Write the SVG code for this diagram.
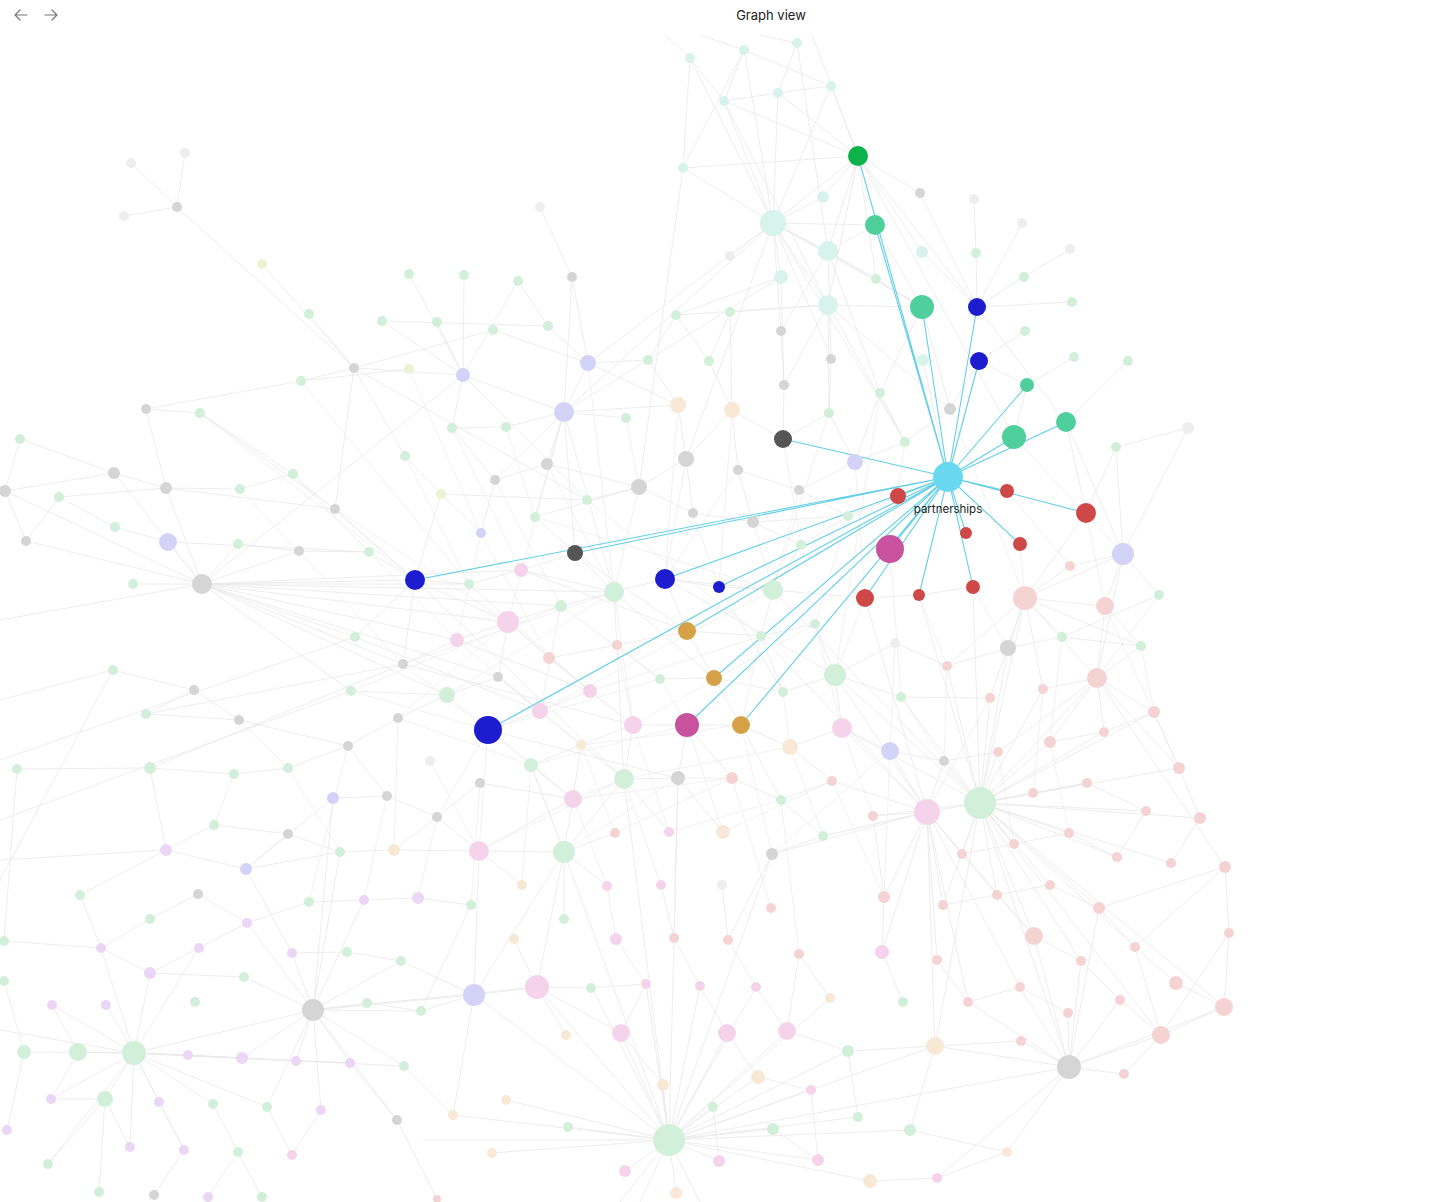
<svg xmlns="http://www.w3.org/2000/svg" width="1456" height="1202" viewBox="0 0 1456 1202">
<style>
.e{fill:none;stroke:#e8e8e8;stroke-width:0.8}
.e2{fill:none;stroke:#ededed;stroke-width:0.8}
.h{fill:none;stroke:#62cfe8;stroke-width:1.1}
.m{fill:#d8f3eb}.l{fill:#eeeeee}.k{fill:#d5d5d5}.g{fill:#d2efda}.y{fill:#ebf3d3}.v{fill:#d3d3f7}.o{fill:#f7e9d5}.p{fill:#f5d4eb}.r{fill:#f5d3d3}.u{fill:#ecd6f6}
.ctr{fill:#6ad7f1}.bg{fill:#0db24a}.tl{fill:#4fcf9c}.bl{fill:#1d1dcf}.dk{fill:#555555}.rd{fill:#cf4848}.mg{fill:#c9529e}.gd{fill:#d6a247}
.t{font-family:Inter,"Liberation Sans",Arial,sans-serif;fill:#222}
.ic{fill:none;stroke:#777;stroke-width:1.2;stroke-linecap:round;stroke-linejoin:round}
</style>
<rect width="1456" height="1202" fill="#ffffff"/>
<g id="header">
<path class="ic" d="M27 15H15M20 10L15 15L20 20"/>
<path class="ic" d="M45 15H57M52 10L57 15L52 20"/>
<text class="t" x="771" y="20" font-size="13" text-anchor="middle">Graph view</text>
</g>
<g id="connectors">
<path class="e" d="M683 168L773 223M683 168L690 58M683 168L744 50M683 168L639 487M683 168L858 156M690 58L724 101M744 50L724 101M744 50L831 86M797 43L778 93M778 93L724 101M724 101L858 156M778 93L858 156M831 86L858 156M831 86L778 93M665 35L690 58M700 35L744 50M760 35L797 43M812 35L858 156M690 58L773 223M744 50L773 223M724 101L773 223M778 93L773 223M831 86L773 223M797 43L828 251M724 101L828 305M773 223L858 156M773 223L823 197M773 223L828 251M773 223L781 277M773 223L828 305M773 223L730 256M773 223L876 279M773 223L781 331M773 223L588 363M773 223L564 412M773 223L875 225M773 223L922 307M773 223L686 459M773 223L832 359M773 223L905 442M858 156L920 193M858 156L922 252M858 156L828 251M858 156L828 305M858 156L876 279M858 156L977 307M858 156L1014 437M858 156L823 197M828 251L875 225M828 251L922 307M828 251L781 331M828 251L831 359M828 251L880 393M828 305L922 307M828 305L784 385M828 305L829 413M828 305L730 312M828 305L676 315M828 305L905 442M828 305L950 409M781 277L676 315M781 277L564 412M781 277L784 385M920 193L977 307M974 199L976 253M976 253L977 307M1022 223L977 307M1070 249L1024 277M1024 277L977 307M1072 302L977 307M1025 331L979 361M1074 357L1027 385M1128 361L1066 422M1188 428L1116 447M1116 447L1086 513M1066 422L1086 513M1066 422L1123 554M1027 385L1014 437M977 307L1066 422M979 361L1027 385M922 252L977 307M922 307L950 409M923 360L948 477M875 225L922 307M876 279L922 307M880 393L922 307"/>
<path class="e" d="M131 163L177 207M185 153L177 207M124 216L177 207M177 207L354 368M262 264L354 368M309 314L354 368M354 368L463 375M354 368L301 381M354 368L493 330M354 368L335 509M354 368L405 456M354 368L587 500M146 409L301 381M146 409L200 413M146 409L166 488M200 413L293 474M200 413L335 509M301 381L409 369M409 274L463 375M464 275L463 375M382 321L463 375M437 322L463 375M382 321L548 326M518 281L548 326M518 281L463 375M572 277L588 363M540 207L572 277M493 330L588 363M548 326L588 363M572 277L564 412M463 375L564 412M463 375L202 584M463 375L587 500M588 363L564 412M588 363L678 405M588 363L648 360M564 412L547 464M564 412L626 418M564 412L678 405M564 412L506 427M564 412L495 480M564 412L575 553M564 412L535 517M564 412L614 592M463 375L452 428M452 428L506 427M405 456L441 494M452 428L495 480M441 494L587 500M441 494L481 533M441 494L415 580M676 315L648 360M676 315L709 361M730 312L709 361M730 312L732 410M648 360L678 405M709 361L732 410M678 405L686 459M732 410L686 459M732 410L738 470M732 410L783 439M686 459L639 487M686 459L693 513M639 487L587 500M639 487L693 513M639 487L535 517M639 487L547 464M547 464L495 480M495 480L481 533M738 470L799 490M738 470L753 522M799 490L855 462M799 490L848 516M855 462L905 442M855 462L880 393M784 385L783 439M781 331L784 385M831 359L829 413M829 413L855 462M829 413L783 439M880 393L905 442M905 442L950 409M950 409L979 361M693 513L753 522M753 522L801 545M753 522L848 516"/>
<path class="e" d="M20 439L5 491M20 439L114 473M114 473L166 488M114 473L202 584M166 488L202 584M5 491L26 541M5 491L202 584M5 491L114 473M59 497L166 488M59 497L26 541M59 497L115 527M168 542L202 584M115 527L168 542M166 488L240 489M240 489L293 474M166 488L335 509M293 474L369 552M299 551L369 552M238 544L299 551M26 541L202 584M133 584L202 584M202 584L415 580M202 584L469 584M202 584L521 570M202 584L508 622M202 584L457 640M202 584L614 592M202 584L561 606M202 584L498 677M202 584L447 695M202 584L403 664M202 584L355 637M202 584L351 691M202 584L299 551M202 584L238 544M168 542L369 552M335 509L415 580M369 552L415 580M415 580L469 584M415 580L403 664M415 580L355 637M415 580L508 622M0 620L202 584"/>
<path class="e" d="M469 584L521 570M521 570L575 553M521 570L614 592M575 553L614 592M575 553L535 517M614 592L665 579M614 592L561 606M561 606L508 622M508 622L457 640M508 622L549 658M508 622L498 677M457 640L403 664M549 658L617 645M549 658L590 691M617 645L687 631M617 645L660 679M660 679L714 678M498 677L540 711M498 677L447 695M447 695L398 718M447 695L351 691M540 711L590 691M540 711L488 730M590 691L633 725M633 725L687 725M633 725L581 745M581 745L531 765M665 579L719 587M665 579L687 631M719 587L773 590M773 590L761 636M773 590L801 545M761 636L815 624M815 624L835 675M761 636L783 692M783 692L835 675M835 675L901 697M835 675L895 643M835 675L842 728M842 728L890 751M842 728L790 747M790 747L741 725M741 725L687 725M714 678L783 692M687 631L714 678M687 631L761 636M801 545L848 516M848 516L898 496M773 590L865 598M865 598L919 595M919 595L973 587M895 643L947 666M901 697L990 698M890 751L944 761M944 761L998 752M1008 648L1062 637M1008 648L947 666M415 580L624 779M488 730L680 779M403 664L633 725M355 637L540 711M498 677L624 779M457 640L590 691M469 584L590 691M614 592L624 779M561 606L660 679M665 579L835 675M719 587L783 692M575 553L687 631M665 579L773 590M521 570L687 631M614 592L714 678M687 725L678 778M633 725L624 779M581 745L573 799M687 725L732 778M741 725L781 800M790 747L832 781M842 728L927 812M842 728L980 803M890 751L927 812M835 675L980 803M835 675L927 812M773 590L980 803M761 636L927 812M901 697L980 803M947 666L980 803M1008 648L980 803M1025 598L980 803M1097 678L980 803M865 598L927 812M919 595L980 803M973 587L980 803"/>
<path class="e2" d="M535 517L773 590M587 500L761 636M547 464L614 592M495 480L561 606M481 533L457 640M481 533L549 658M639 487L614 592M693 513L719 587M753 522L773 590M799 490L773 590M848 516L815 624M855 462L865 598M905 442L890 549M783 439L801 545M738 470L665 579M686 459L665 579M626 418L639 487M506 427L535 517M452 428L521 570M405 456L469 584M369 552L457 640M335 509L508 622M293 474L415 580M240 489L403 664M200 413L415 580M301 381L469 584M409 369L481 533M564 412L508 622M588 363L614 592M678 405L665 579M732 410L719 587M829 413L773 590M880 393L835 675M950 409L1025 598M1014 437L1123 554M1086 513L1105 606M1020 544L1025 598M973 587L1008 648M919 595L947 666M865 598L835 675M890 549L901 697M1007 491L1070 566M898 496L848 516M614 592L633 725M561 606L540 711M508 622L590 691M457 640L540 711M403 664L488 730M351 691L488 730M398 718L531 765M447 695L573 799M498 677L581 745M549 658L633 725M617 645L633 725M660 679L687 725M714 678L741 725M761 636L741 725M783 692L790 747M815 624L842 728M895 643L890 751M901 697L944 761M947 666L944 761M990 698L927 812M1043 689L1033 793M1050 742L1069 833M998 752L1014 844M1062 637L1050 742M1141 646L1154 712M1159 595L1097 678M1105 606L1179 768M488 730L573 799M488 730L479 851M488 730L437 817M531 765L564 852M581 745L615 833M633 725L669 832M687 725L723 832M741 725L772 854M790 747L823 836M842 728L873 816M890 751L884 897M832 781L884 897M781 800L799 954M732 778L771 908M678 778L674 938M624 779L661 885M573 799L607 886M531 765L522 885M480 783L471 905M437 817L418 898M387 796L364 900M348 746L309 902M288 768L340 852M234 774L214 825M398 718L394 850M430 761L479 851M403 664L614 592M351 691L561 606M398 718L508 622M447 695L614 592M540 711L773 590M590 691L761 636M633 725L815 624M488 730L660 679M531 765L687 725M581 745L741 725M624 779L790 747M573 799L732 778M479 851L624 779M564 852L678 778M615 833L732 778M669 832L781 800M723 832L832 781M772 854L890 751M823 836L927 812"/>
<path class="e" d="M1025 598L1105 606M1025 598L1062 637M1025 598L1008 648M1025 598L1070 566M1025 598L1123 554M1025 598L1097 678M1025 598L947 666M1025 598L990 698M1025 598L1043 689M1025 598L1141 646M1025 598L1086 513M1123 554L1159 595M1123 554L1105 606M1123 554L1097 678M1123 554L1116 447M1123 554L1070 566M1123 554L1188 428M1105 606L1141 646M1105 606L1097 678M1097 678L1154 712M1097 678L1104 732M1097 678L1179 768M1097 678L1050 742M1097 678L1043 689M1097 678L1141 646M1097 678L1225 867M1097 678L998 752M1062 637L1141 646M1159 595L1062 637M980 803L1033 793M980 803L1087 783M980 803L1069 833M980 803L1014 844M980 803L1117 857M980 803L1050 885M980 803L1099 908M980 803L1034 936M980 803L997 895M980 803L962 854M980 803L1135 947M980 803L1146 811M980 803L1179 768M980 803L1200 818M980 803L1224 1007M980 803L1161 1035M980 803L1069 1067M980 803L944 761M980 803L873 816M980 803L1154 712M980 803L1104 732M980 803L1050 742M980 803L998 752M980 803L1043 689M980 803L990 698M980 803L927 812M980 803L1171 863M980 803L1081 961M980 803L943 905M980 803L935 1046M927 812L884 897M927 812L943 905M927 812L882 952M927 812L937 960M927 812L935 1046M927 812L832 781M927 812L873 816M927 812L968 1002M927 812L1020 987M927 812L962 854M927 812L997 895M927 812L1034 936M927 812L823 836M927 812L772 854M927 812L944 761M1069 1067L1124 1074M1069 1067L1161 1035M1069 1067L1021 1041M1069 1067L1068 1013M1069 1067L1081 961M1069 1067L1020 987M1069 1067L968 1002M1069 1067L935 1046M1069 1067L1224 1007M1069 1067L1007 1152M1069 1067L937 1178M1069 1067L1034 936M1069 1067L1099 908M1069 1067L1120 1000M1179 768L1200 818M1200 818L1171 863M1225 867L1229 933M1229 933L1224 1007M1224 1007L1161 1035M1176 983L1224 1007M1176 983L1135 947M1146 811L1117 857M1154 712L1104 732M1104 732L1050 742M1087 783L1033 793M1087 783L1146 811M1069 833L1117 857M1069 833L1014 844M1050 885L1099 908M1099 908L1135 947M1135 947L1161 1035M1120 1000L1161 1035M1081 961L1120 1000M1034 936L1081 961M1034 936L997 895M997 895L1050 885M962 854L1014 844M943 905L997 895M937 960L968 1002M968 1002L1020 987M1020 987L1068 1013M1021 1041L935 1046M1124 1074L1161 1035M1154 712L1179 768M1225 867L1135 947M1225 867L1099 908M1229 933L1161 1035"/>
<path class="e" d="M669 1140L537 987M669 1140L474 995M669 1140L621 1033M669 1140L727 1033M669 1140L787 1031M669 1140L663 1085M669 1140L758 1077M669 1140L713 1107M669 1140L773 1129M669 1140L568 1127M669 1140L719 1161M669 1140L818 1160M669 1140L625 1171M669 1140L676 1193M669 1140L870 1181M669 1140L935 1046M669 1140L564 852M669 1140L624 779M669 1140L1069 1067M669 1140L453 1115M669 1140L620 1202M669 1140L700 1202M669 1140L640 1202M669 1140L646 984M669 1140L700 986M669 1140L756 987M669 1140L848 1051M669 1140L811 1090M669 1140L858 1117M669 1140L592 988M669 1140L506 1100M669 1140L492 1153M669 1140L910 1130M669 1140L678 778M669 1140L772 854M669 1140L830 998M669 1140L423 1140M479 851L564 852M479 851L573 799M479 851L474 995M479 851L437 817M479 851L522 885M479 851L394 850M564 852L573 799M564 852L624 779M564 852L537 987M564 852L615 833M564 852L607 886M564 852L564 919M564 852L474 995M564 852L531 765M573 799L531 765M573 799L624 779M573 799L480 783M624 779L678 778M624 779L669 832M678 778L732 778M678 778L723 832M732 778L781 800M781 800L823 836M781 800L832 781M772 854L823 836M772 854L728 940M722 885L728 940M661 885L674 938M607 886L616 939M616 939L646 984M674 938L700 986M728 940L756 987M799 954L787 1031M799 954L830 998M882 952L903 1002M884 897L882 952M884 897L873 816M537 987L474 995M537 987L591 988M537 987L621 1033M537 987L566 1035M537 987L514 939M474 995L421 1011M474 995L453 1115M591 988L646 984M646 984L621 1033M700 986L727 1033M756 987L787 1031M787 1031L848 1051M727 1033L758 1077M621 1033L663 1085M758 1077L811 1090M848 1051L858 1117M811 1090L818 1160M773 1129L818 1160M713 1107L719 1161M870 1181L937 1178M910 1130L1007 1152M935 1046L910 1130M935 1046L848 1051M1007 1152L937 1178"/>
<path class="e" d="M134 1053L78 1052M134 1053L24 1052M134 1053L188 1055M134 1053L242 1058M134 1053L296 1061M134 1053L105 1099M134 1053L159 1102M134 1053L150 973M134 1053L101 948M134 1053L51 1099M134 1053L213 1104M134 1053L267 1107M134 1053L184 1150M134 1053L130 1147M134 1053L48 1164M134 1053L313 1010M134 1053L0 1030M134 1053L350 1063M134 1053L404 1066M134 1053L199 948M134 1053L106 1005M134 1053L52 1005M313 1010L367 1003M313 1010L421 1011M313 1010L350 1063M313 1010L296 1061M313 1010L244 977M313 1010L247 923M313 1010L292 953M313 1010L401 961M313 1010L474 995M313 1010L537 987M313 1010L242 1058M313 1010L364 900M313 1010L340 852M313 1010L321 1110M313 1010L404 1066M313 1010L397 1120M313 1010L267 1107M313 1010L333 798M24 1052L7 1130M24 1052L4 981M78 1052L51 1099M78 1052L52 1005M105 1099L51 1099M105 1099L130 1147M105 1099L48 1164M105 1099L99 1192M159 1102L184 1150M184 1150L154 1195M213 1104L238 1152M238 1152L262 1197M238 1152L208 1197M267 1107L292 1155M292 1155L321 1110M350 1063L397 1120M404 1066L453 1115M397 1120L437 1199M188 1055L242 1058M296 1061L350 1063M101 948L150 919M150 919L198 894M198 894L247 923M199 948L247 923M150 973L199 948M101 948L150 973M150 973L244 977M101 948L80 895M80 895L166 850M166 850L214 825M166 850L246 869M246 869L292 953M246 869L340 852M246 869L288 834M214 825L288 834M288 834L340 852M340 852L394 850M364 900L418 898M364 900L309 902M309 902L247 923M418 898L471 905M401 961L347 952M347 952L292 953M401 961L474 995M367 1003L421 1011M421 1011L471 905M4 941L101 948M17 769L150 768M17 769L4 941M150 768L234 774M150 768L166 850M234 774L288 768M288 768L348 746M348 746L398 718M239 720L348 746M146 714L239 720M113 670L194 690M194 690L239 720M194 690L146 714M239 720L288 768M333 798L387 796M387 796L437 817M387 796L348 746M437 817L480 783M394 850L437 817M333 798L246 869M0 860L166 850M0 880L113 670M0 700L113 670M0 760L355 637M0 820L351 691M146 714L403 664M150 768L403 664"/>
<g id="highlight-links">
<path class="h" d="M948 477L858 156M948 477L875 225M948 477L922 307M948 477L977 307M948 477L979 361M948 477L1027 385M948 477L1066 422M948 477L1014 437M948 477L783 439M948 477L898 496M948 477L1007 491M948 477L1086 513M948 477L966 533M948 477L1020 544M948 477L890 549M948 477L865 598M948 477L919 595M948 477L973 587M948 477L415 580M948 477L575 553M948 477L665 579M948 477L719 587M948 477L687 631M948 477L714 678M948 477L741 725M948 477L687 725M948 477L488 730"/>
</g>
</g>
<g id="faded-nodes">
<g id="fm"><circle class="m" cx="690" cy="58" r="5"/><circle class="m" cx="744" cy="50" r="5"/><circle class="m" cx="797" cy="43" r="5"/><circle class="m" cx="724" cy="101" r="5"/><circle class="m" cx="778" cy="93" r="5"/><circle class="m" cx="831" cy="86" r="5"/><circle class="m" cx="683" cy="168" r="5"/><circle class="m" cx="773" cy="223" r="13"/><circle class="m" cx="823" cy="197" r="6"/><circle class="m" cx="828" cy="251" r="10"/><circle class="m" cx="781" cy="277" r="7"/><circle class="m" cx="828" cy="305" r="10"/><circle class="m" cx="923" cy="360" r="6"/><circle class="m" cx="922" cy="252" r="6"/></g>
<g id="fl"><circle class="l" cx="730" cy="256" r="5"/><circle class="l" cx="974" cy="199" r="5"/><circle class="l" cx="1022" cy="223" r="5"/><circle class="l" cx="1070" cy="249" r="5"/><circle class="l" cx="131" cy="163" r="5"/><circle class="l" cx="185" cy="153" r="5"/><circle class="l" cx="124" cy="216" r="5"/><circle class="l" cx="540" cy="207" r="5"/><circle class="l" cx="430" cy="761" r="5"/><circle class="l" cx="895" cy="643" r="5"/><circle class="l" cx="722" cy="885" r="5"/><circle class="l" cx="1188" cy="428" r="6"/></g>
<g id="fk"><circle class="k" cx="920" cy="193" r="5"/><circle class="k" cx="950" cy="409" r="6"/><circle class="k" cx="177" cy="207" r="5"/><circle class="k" cx="572" cy="277" r="5"/><circle class="k" cx="354" cy="368" r="5"/><circle class="k" cx="146" cy="409" r="5"/><circle class="k" cx="781" cy="331" r="5"/><circle class="k" cx="831" cy="359" r="5"/><circle class="k" cx="784" cy="385" r="5"/><circle class="k" cx="686" cy="459" r="8"/><circle class="k" cx="738" cy="470" r="5"/><circle class="k" cx="799" cy="490" r="5"/><circle class="k" cx="753" cy="522" r="6"/><circle class="k" cx="693" cy="513" r="5"/><circle class="k" cx="639" cy="487" r="8"/><circle class="k" cx="547" cy="464" r="6"/><circle class="k" cx="495" cy="480" r="5"/><circle class="k" cx="114" cy="473" r="6"/><circle class="k" cx="166" cy="488" r="6"/><circle class="k" cx="5" cy="491" r="6"/><circle class="k" cx="335" cy="509" r="5"/><circle class="k" cx="26" cy="541" r="5"/><circle class="k" cx="299" cy="551" r="5"/><circle class="k" cx="202" cy="584" r="10"/><circle class="k" cx="403" cy="664" r="5"/><circle class="k" cx="498" cy="677" r="5"/><circle class="k" cx="398" cy="718" r="5"/><circle class="k" cx="194" cy="690" r="5"/><circle class="k" cx="239" cy="720" r="5"/><circle class="k" cx="348" cy="746" r="5"/><circle class="k" cx="387" cy="796" r="5"/><circle class="k" cx="437" cy="817" r="5"/><circle class="k" cx="480" cy="783" r="5"/><circle class="k" cx="288" cy="834" r="5"/><circle class="k" cx="198" cy="894" r="5"/><circle class="k" cx="313" cy="1010" r="11"/><circle class="k" cx="397" cy="1120" r="5"/><circle class="k" cx="154" cy="1195" r="5"/><circle class="k" cx="678" cy="778" r="7"/><circle class="k" cx="772" cy="854" r="6"/><circle class="k" cx="944" cy="761" r="5"/><circle class="k" cx="1008" cy="648" r="8"/><circle class="k" cx="1069" cy="1067" r="12"/></g>
<g id="fg"><circle class="g" cx="976" cy="253" r="5"/><circle class="g" cx="1024" cy="277" r="5"/><circle class="g" cx="876" cy="279" r="5"/><circle class="g" cx="1072" cy="302" r="5"/><circle class="g" cx="1025" cy="331" r="5"/><circle class="g" cx="1074" cy="357" r="5"/><circle class="g" cx="1128" cy="361" r="5"/><circle class="g" cx="1116" cy="447" r="5"/><circle class="g" cx="409" cy="274" r="5"/><circle class="g" cx="464" cy="275" r="5"/><circle class="g" cx="518" cy="281" r="5"/><circle class="g" cx="309" cy="314" r="5"/><circle class="g" cx="382" cy="321" r="5"/><circle class="g" cx="437" cy="322" r="5"/><circle class="g" cx="493" cy="330" r="5"/><circle class="g" cx="548" cy="326" r="5"/><circle class="g" cx="301" cy="381" r="5"/><circle class="g" cx="200" cy="413" r="5"/><circle class="g" cx="452" cy="428" r="5"/><circle class="g" cx="506" cy="427" r="5"/><circle class="g" cx="626" cy="418" r="5"/><circle class="g" cx="676" cy="315" r="5"/><circle class="g" cx="730" cy="312" r="5"/><circle class="g" cx="648" cy="360" r="5"/><circle class="g" cx="709" cy="361" r="5"/><circle class="g" cx="829" cy="413" r="5"/><circle class="g" cx="880" cy="393" r="5"/><circle class="g" cx="905" cy="442" r="5"/><circle class="g" cx="405" cy="456" r="5"/><circle class="g" cx="587" cy="500" r="5"/><circle class="g" cx="535" cy="517" r="5"/><circle class="g" cx="20" cy="439" r="5"/><circle class="g" cx="240" cy="489" r="5"/><circle class="g" cx="293" cy="474" r="5"/><circle class="g" cx="59" cy="497" r="5"/><circle class="g" cx="115" cy="527" r="5"/><circle class="g" cx="238" cy="544" r="5"/><circle class="g" cx="369" cy="552" r="5"/><circle class="g" cx="133" cy="584" r="5"/><circle class="g" cx="469" cy="584" r="5"/><circle class="g" cx="614" cy="592" r="10"/><circle class="g" cx="561" cy="606" r="6"/><circle class="g" cx="660" cy="679" r="5"/><circle class="g" cx="447" cy="695" r="8"/><circle class="g" cx="355" cy="637" r="5"/><circle class="g" cx="351" cy="691" r="5"/><circle class="g" cx="773" cy="590" r="10"/><circle class="g" cx="801" cy="545" r="5"/><circle class="g" cx="848" cy="516" r="5"/><circle class="g" cx="835" cy="675" r="11"/><circle class="g" cx="761" cy="636" r="5"/><circle class="g" cx="783" cy="692" r="5"/><circle class="g" cx="815" cy="624" r="5"/><circle class="g" cx="901" cy="697" r="5"/><circle class="g" cx="980" cy="803" r="16"/><circle class="g" cx="1062" cy="637" r="5"/><circle class="g" cx="1141" cy="646" r="5"/><circle class="g" cx="1159" cy="595" r="5"/><circle class="g" cx="17" cy="769" r="5"/><circle class="g" cx="113" cy="670" r="5"/><circle class="g" cx="146" cy="714" r="5"/><circle class="g" cx="150" cy="768" r="6"/><circle class="g" cx="234" cy="774" r="5"/><circle class="g" cx="288" cy="768" r="5"/><circle class="g" cx="531" cy="765" r="7"/><circle class="g" cx="624" cy="779" r="10"/><circle class="g" cx="781" cy="800" r="5"/><circle class="g" cx="823" cy="836" r="5"/><circle class="g" cx="564" cy="852" r="11"/><circle class="g" cx="214" cy="825" r="5"/><circle class="g" cx="340" cy="852" r="5"/><circle class="g" cx="80" cy="895" r="5"/><circle class="g" cx="150" cy="919" r="5"/><circle class="g" cx="309" cy="902" r="5"/><circle class="g" cx="471" cy="905" r="5"/><circle class="g" cx="564" cy="919" r="5"/><circle class="g" cx="347" cy="952" r="5"/><circle class="g" cx="401" cy="961" r="5"/><circle class="g" cx="244" cy="977" r="5"/><circle class="g" cx="4" cy="981" r="5"/><circle class="g" cx="195" cy="1002" r="5"/><circle class="g" cx="367" cy="1003" r="5"/><circle class="g" cx="421" cy="1011" r="5"/><circle class="g" cx="591" cy="988" r="5"/><circle class="g" cx="903" cy="1002" r="5"/><circle class="g" cx="24" cy="1052" r="7"/><circle class="g" cx="78" cy="1052" r="9"/><circle class="g" cx="134" cy="1053" r="12"/><circle class="g" cx="404" cy="1066" r="5"/><circle class="g" cx="105" cy="1099" r="8"/><circle class="g" cx="213" cy="1104" r="5"/><circle class="g" cx="267" cy="1107" r="5"/><circle class="g" cx="48" cy="1164" r="5"/><circle class="g" cx="238" cy="1152" r="5"/><circle class="g" cx="99" cy="1192" r="5"/><circle class="g" cx="262" cy="1197" r="5"/><circle class="g" cx="568" cy="1127" r="5"/><circle class="g" cx="713" cy="1107" r="5"/><circle class="g" cx="773" cy="1129" r="6"/><circle class="g" cx="858" cy="1117" r="5"/><circle class="g" cx="910" cy="1130" r="6"/><circle class="g" cx="848" cy="1051" r="6"/><circle class="g" cx="669" cy="1140" r="16"/><circle class="g" cx="4" cy="941" r="5"/></g>
<g id="fy"><circle class="y" cx="262" cy="264" r="5"/><circle class="y" cx="409" cy="369" r="5"/><circle class="y" cx="441" cy="494" r="5"/></g>
<g id="fv"><circle class="v" cx="463" cy="375" r="7"/><circle class="v" cx="588" cy="363" r="8"/><circle class="v" cx="564" cy="412" r="10"/><circle class="v" cx="855" cy="462" r="8"/><circle class="v" cx="481" cy="533" r="5"/><circle class="v" cx="168" cy="542" r="9"/><circle class="v" cx="890" cy="751" r="9"/><circle class="v" cx="1123" cy="554" r="11"/><circle class="v" cx="333" cy="798" r="6"/><circle class="v" cx="246" cy="869" r="6"/><circle class="v" cx="474" cy="995" r="11"/></g>
<g id="fo"><circle class="o" cx="678" cy="405" r="8"/><circle class="o" cx="732" cy="410" r="8"/><circle class="o" cx="581" cy="745" r="5"/><circle class="o" cx="790" cy="747" r="8"/><circle class="o" cx="394" cy="850" r="6"/><circle class="o" cx="723" cy="832" r="7"/><circle class="o" cx="522" cy="885" r="5"/><circle class="o" cx="514" cy="939" r="5"/><circle class="o" cx="566" cy="1035" r="5"/><circle class="o" cx="663" cy="1085" r="6"/><circle class="o" cx="758" cy="1077" r="7"/><circle class="o" cx="830" cy="998" r="5"/><circle class="o" cx="935" cy="1046" r="9"/><circle class="o" cx="506" cy="1100" r="5"/><circle class="o" cx="453" cy="1115" r="5"/><circle class="o" cx="492" cy="1153" r="5"/><circle class="o" cx="676" cy="1193" r="6"/><circle class="o" cx="870" cy="1181" r="7"/><circle class="o" cx="1007" cy="1152" r="5"/></g>
<g id="fp"><circle class="p" cx="521" cy="570" r="7"/><circle class="p" cx="508" cy="622" r="11"/><circle class="p" cx="457" cy="640" r="7"/><circle class="p" cx="540" cy="711" r="8"/><circle class="p" cx="590" cy="691" r="7"/><circle class="p" cx="633" cy="725" r="9"/><circle class="p" cx="842" cy="728" r="10"/><circle class="p" cx="927" cy="812" r="13"/><circle class="p" cx="573" cy="799" r="9"/><circle class="p" cx="669" cy="832" r="5"/><circle class="p" cx="479" cy="851" r="10"/><circle class="p" cx="607" cy="886" r="5"/><circle class="p" cx="661" cy="885" r="5"/><circle class="p" cx="616" cy="939" r="6"/><circle class="p" cx="882" cy="952" r="7"/><circle class="p" cx="537" cy="987" r="12"/><circle class="p" cx="646" cy="984" r="5"/><circle class="p" cx="700" cy="986" r="5"/><circle class="p" cx="756" cy="987" r="5"/><circle class="p" cx="621" cy="1033" r="9"/><circle class="p" cx="727" cy="1033" r="9"/><circle class="p" cx="787" cy="1031" r="9"/><circle class="p" cx="811" cy="1090" r="5"/><circle class="p" cx="719" cy="1161" r="6"/><circle class="p" cx="818" cy="1160" r="6"/><circle class="p" cx="625" cy="1171" r="6"/><circle class="p" cx="292" cy="1155" r="5"/><circle class="p" cx="937" cy="1178" r="5"/></g>
<g id="fr"><circle class="r" cx="549" cy="658" r="6"/><circle class="r" cx="617" cy="645" r="5"/><circle class="r" cx="732" cy="778" r="6"/><circle class="r" cx="832" cy="781" r="5"/><circle class="r" cx="873" cy="816" r="5"/><circle class="r" cx="615" cy="833" r="5"/><circle class="r" cx="884" cy="897" r="6"/><circle class="r" cx="771" cy="908" r="5"/><circle class="r" cx="674" cy="938" r="5"/><circle class="r" cx="728" cy="940" r="5"/><circle class="r" cx="799" cy="954" r="5"/><circle class="r" cx="437" cy="1199" r="4"/><circle class="r" cx="1025" cy="598" r="12"/><circle class="r" cx="1105" cy="606" r="9"/><circle class="r" cx="1070" cy="566" r="5"/><circle class="r" cx="947" cy="666" r="5"/><circle class="r" cx="990" cy="698" r="5"/><circle class="r" cx="1043" cy="689" r="5"/><circle class="r" cx="1097" cy="678" r="10"/><circle class="r" cx="1154" cy="712" r="6"/><circle class="r" cx="1104" cy="732" r="5"/><circle class="r" cx="1050" cy="742" r="6"/><circle class="r" cx="998" cy="752" r="5"/><circle class="r" cx="1033" cy="793" r="5"/><circle class="r" cx="1087" cy="783" r="5"/><circle class="r" cx="1179" cy="768" r="6"/><circle class="r" cx="1146" cy="811" r="5"/><circle class="r" cx="1200" cy="818" r="6"/><circle class="r" cx="1069" cy="833" r="5"/><circle class="r" cx="1014" cy="844" r="5"/><circle class="r" cx="962" cy="854" r="5"/><circle class="r" cx="1117" cy="857" r="5"/><circle class="r" cx="1171" cy="863" r="5"/><circle class="r" cx="1225" cy="867" r="6"/><circle class="r" cx="1050" cy="885" r="5"/><circle class="r" cx="997" cy="895" r="5"/><circle class="r" cx="943" cy="905" r="5"/><circle class="r" cx="1099" cy="908" r="6"/><circle class="r" cx="1034" cy="936" r="9"/><circle class="r" cx="1135" cy="947" r="5"/><circle class="r" cx="1229" cy="933" r="5"/><circle class="r" cx="1081" cy="961" r="5"/><circle class="r" cx="937" cy="960" r="5"/><circle class="r" cx="1176" cy="983" r="7"/><circle class="r" cx="1020" cy="987" r="5"/><circle class="r" cx="968" cy="1002" r="5"/><circle class="r" cx="1120" cy="1000" r="5"/><circle class="r" cx="1224" cy="1007" r="9"/><circle class="r" cx="1068" cy="1013" r="5"/><circle class="r" cx="1161" cy="1035" r="9"/><circle class="r" cx="1021" cy="1041" r="5"/><circle class="r" cx="1124" cy="1074" r="5"/></g>
<g id="fu"><circle class="u" cx="166" cy="850" r="6"/><circle class="u" cx="364" cy="900" r="5"/><circle class="u" cx="418" cy="898" r="6"/><circle class="u" cx="247" cy="923" r="5"/><circle class="u" cx="101" cy="948" r="5"/><circle class="u" cx="199" cy="948" r="5"/><circle class="u" cx="292" cy="953" r="5"/><circle class="u" cx="150" cy="973" r="6"/><circle class="u" cx="52" cy="1005" r="5"/><circle class="u" cx="106" cy="1005" r="5"/><circle class="u" cx="188" cy="1055" r="5"/><circle class="u" cx="242" cy="1058" r="6"/><circle class="u" cx="296" cy="1061" r="5"/><circle class="u" cx="350" cy="1063" r="5"/><circle class="u" cx="51" cy="1099" r="5"/><circle class="u" cx="159" cy="1102" r="5"/><circle class="u" cx="321" cy="1110" r="5"/><circle class="u" cx="7" cy="1130" r="5"/><circle class="u" cx="130" cy="1147" r="5"/><circle class="u" cx="184" cy="1150" r="5"/><circle class="u" cx="208" cy="1197" r="5"/></g>
</g>
<g id="highlight-nodes">
<g id="n-green"><circle class="bg" cx="858" cy="156" r="10"/></g>
<g id="n-teal1"><circle class="tl" cx="875" cy="225" r="10"/></g>
<g id="n-teal2"><circle class="tl" cx="922" cy="307" r="12"/></g>
<g id="n-blue1"><circle class="bl" cx="977" cy="307" r="9"/></g>
<g id="n-blue2"><circle class="bl" cx="979" cy="361" r="9"/></g>
<g id="n-teal3"><circle class="tl" cx="1027" cy="385" r="7"/></g>
<g id="n-teal4"><circle class="tl" cx="1066" cy="422" r="10"/></g>
<g id="n-teal5"><circle class="tl" cx="1014" cy="437" r="12"/></g>
<g id="n-dark1"><circle class="dk" cx="783" cy="439" r="9"/></g>
<g id="n-red1"><circle class="rd" cx="898" cy="496" r="8"/></g>
<g id="n-red2"><circle class="rd" cx="1007" cy="491" r="7"/></g>
<g id="n-red3"><circle class="rd" cx="1086" cy="513" r="10"/></g>
<g id="n-red4"><circle class="rd" cx="966" cy="533" r="6"/></g>
<g id="n-red5"><circle class="rd" cx="1020" cy="544" r="7"/></g>
<g id="n-mag1"><circle class="mg" cx="890" cy="549" r="14"/></g>
<g id="n-red6"><circle class="rd" cx="865" cy="598" r="9"/></g>
<g id="n-red7"><circle class="rd" cx="919" cy="595" r="6"/></g>
<g id="n-red8"><circle class="rd" cx="973" cy="587" r="7"/></g>
<g id="n-blue3"><circle class="bl" cx="415" cy="580" r="10"/></g>
<g id="n-dark2"><circle class="dk" cx="575" cy="553" r="8"/></g>
<g id="n-blue4"><circle class="bl" cx="665" cy="579" r="10"/></g>
<g id="n-blue5"><circle class="bl" cx="719" cy="587" r="6"/></g>
<g id="n-gold1"><circle class="gd" cx="687" cy="631" r="9"/></g>
<g id="n-gold2"><circle class="gd" cx="714" cy="678" r="8"/></g>
<g id="n-gold3"><circle class="gd" cx="741" cy="725" r="9"/></g>
<g id="n-mag2"><circle class="mg" cx="687" cy="725" r="12"/></g>
<g id="n-blue6"><circle class="bl" cx="488" cy="730" r="14"/></g>
<g id="n-partnerships"><circle class="ctr" cx="948" cy="477" r="15"/><text class="t" x="948" y="513" font-size="11.5" text-anchor="middle">partnerships</text></g>
</g>
</svg>
